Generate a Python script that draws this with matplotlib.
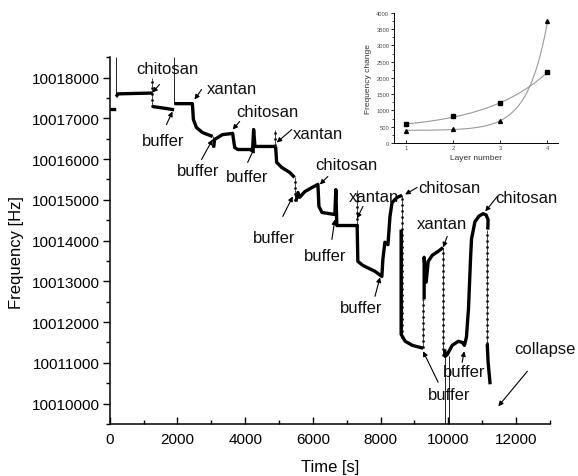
import numpy as np
import matplotlib.pyplot as plt
from matplotlib.ticker import MultipleLocator, FuncFormatter

plt.rcParams['font.family'] = ['Liberation Sans', 'DejaVu Sans']

# main frequency trace, nan = break between pieces
time_s = [0, 190, np.nan,
          190, 240, 700, 1260, np.nan,
          1260, 1600, 1900, np.nan,
          1910, 2440, 2470, 2560, 2740, 3040, np.nan,
          3070, 3095, 3330, 3630, 3690, 3780, 4220, 4250, 4290, 4870, np.nan,
          4900, 4930, 5080, 5320, 5460, np.nan,
          5500, 5560, 5610, 5760, 5970, 6150, 6180, 6270, 6650, 6680, 6710, 7300,
          7310, 7330, 7480, 7840, 8040, 8070, 8130, 8220, 8280, 8340, 8490, 8640, np.nan,
          8610, 8610, 8730, 8940, 9260, np.nan,
          9290, 9290, 9350, 9410, 9530, 9710, 9850, np.nan,
          9900, 9910, 9970, 10120, 10300, 10420, 10480, 10540, 10600, 10660, 10690,
          10790, 10910, 11030, 11120, 11180, 11170, np.nan,
          11155, 11180, 11240]
freq_hz = [10017216, 10017216, np.nan,
           10017530, 10017600, 10017610, 10017620, np.nan,
           10017290, 10017250, 10017210, np.nan,
           10017360, 10017360, 10016970, 10016775, 10016650, 10016555, np.nan,
           10016285, 10016480, 10016600, 10016630, 10016285, 10016235, 10016235, 10016725, 10016310, 10016310, np.nan,
           10016310, 10015920, 10015795, 10015670, 10015550, np.nan,
           10014960, 10015180, 10015060, 10015200, 10015300, 10015380, 10014840, 10014690, 10014640, 10015250, 10014370, 10014370,
           10014370, 10013490, 10013390, 10013245, 10013120, 10013540, 10013960, 10013900, 10014590, 10014930, 10015060, 10015110, np.nan,
           10014270, 10011700, 10011530, 10011430, 10011360, np.nan,
           10012560, 10013590, 10012980, 10013490, 10013640, 10013740, 10013830, np.nan,
           10011330, 10011160, 10011200, 10011430, 10011530, 10011500, 10011430, 10011630, 10012320, 10013540, 10014040,
           10014460, 10014600, 10014660, 10014630, 10014510, 10014270, np.nan,
           10011460, 10011020, 10010475]

# thin injection spikes
spike_t = [190, 1910, 9910, 10010]
spike_top = [10018500, 10018500, 10011330, 10011160]
spike_bottom = [10017530, 10017360, 10009000, 10009000]

# dotted jumps
dot_t = [1260, 3050, 4880, 5480, 7300, 8640, 9260, 9850, 11155]
dot_top = [10018000, 10016555, 10016720, 10015550, 10015250, 10015110, 10012560, 10013830, 10014270]
dot_bottom = [10017290, 10016285, 10016310, 10014960, 10014370, 10011600, 10011360, 10011160, 10011460]

# labels and arrows
label_text = ['chitosan', 'buffer', 'xantan', 'chitosan', 'buffer', 'buffer', 'xantan', 'buffer',
              'chitosan', 'buffer', 'xantan', 'chitosan', 'buffer', 'xantan', 'chitosan',
              'buffer', 'buffer', 'collapse']
label_x = [1704, 1585, 3600, 4667, 2622, 4074, 6148, 4844, 6978, 6356, 7807, 10030, 7422, 9822,
           12311, 10474, 10030, 12874]
label_y = [10018221, 10016456, 10017730, 10017167, 10015720, 10015573, 10016627, 10014078,
           10015868, 10013637, 10015083, 10015304, 10012363, 10014421, 10015059, 10010794,
           10010230, 10011358]
arrow_x0 = [1467, 1674, 2711, 3837, 2711, 4074, 5378, 5111, 6444, 6563, 7482, 9082, 7837, 9971,
            11452, 10415, 9704, 12341]
arrow_y0 = [10017828, 10016848, 10017706, 10016922, 10015990, 10015917, 10016725, 10014593,
            10015573, 10014029, 10014838, 10015304, 10012632, 10014103, 10015083, 10011015,
            10010524, 10010794]
arrow_x1 = [1259, 1852, 2504, 3630, 3037, 4281, 4933, 5408, 6207, 6652, 7304, 8726, 7985, 9852,
            11096, 10474, 9259, 11482]
arrow_y1 = [10017632, 10017167, 10017461, 10016725, 10016480, 10016284, 10016407, 10015083,
            10015377, 10014520, 10014544, 10015132, 10013098, 10013833, 10014716, 10011284,
            10011284, 10009936]

# inset: frequency change per layer
layer = [1, 2, 3, 4]
chg_square = [573, 818, 1228, 2179]
chg_triangle = [378, 430, 685, 3734]


def exp_fit(x, y):
    x = np.asarray(x, float)
    y = np.asarray(y, float)
    best = None
    for k in np.linspace(0.05, 5, 500):
        M = np.column_stack([np.ones_like(x), np.exp(k * x)])
        c = np.linalg.lstsq(M, y, rcond=None)[0]
        r = np.sum((M @ c - y) ** 2)
        if best is None or r < best[0]:
            best = (r, k, c)
    return best[1], best[2]


fig = plt.figure(figsize=(5.78, 4.77), dpi=100)
ax = fig.add_axes([0.190, 0.109, 0.761, 0.769])

ax.vlines(spike_t, spike_bottom, spike_top, color='k', lw=0.6)
ax.vlines(dot_t, dot_bottom, dot_top, color='k', lw=0.5)
ax.vlines(dot_t, dot_bottom, dot_top, color='k', lw=1.8, linestyles=[(0, (0.8, 1.6))])
ax.plot(time_s, freq_hz, color='k', lw=2.4, solid_capstyle='butt')

for s, tx, ty in zip(label_text, label_x, label_y):
    ax.text(tx, ty, s, ha='center', va='center', fontsize=12, color='#111111')
for x0, y0, x1, y1 in zip(arrow_x0, arrow_y0, arrow_x1, arrow_y1):
    ax.annotate('', xy=(x1, y1), xytext=(x0, y0), annotation_clip=False,
                arrowprops=dict(arrowstyle='-|>', color='k', lw=0.8, mutation_scale=7,
                                shrinkA=0, shrinkB=0))

ax.set_xlim(0, 13000)
ax.set_ylim(10009500, 10018500)
ax.xaxis.set_major_locator(MultipleLocator(2000))
ax.xaxis.set_minor_locator(MultipleLocator(1000))
ax.yaxis.set_major_locator(MultipleLocator(1000))
ax.yaxis.set_minor_locator(MultipleLocator(500))
ax.yaxis.set_major_formatter(FuncFormatter(lambda v, p: f'{v:.0f}'))
ax.tick_params(axis='x', which='major', direction='in', length=5, width=1, labelsize=11, pad=6)
ax.tick_params(axis='x', which='minor', direction='in', length=3, width=1)
ax.tick_params(axis='y', which='major', direction='out', length=5, width=1, labelsize=11, pad=2)
ax.tick_params(axis='y', which='minor', direction='out', length=3, width=1)
for sp in ['top', 'right']:
    ax.spines[sp].set_visible(False)
for sp in ['left', 'bottom']:
    ax.spines[sp].set_linewidth(1.1)
ax.set_xlabel('Time [s]', fontsize=12)
ax.set_ylabel('Frequency [Hz]', fontsize=12)
ax.xaxis.set_label_coords(0.5, -0.095)
ax.yaxis.set_label_coords(-0.195, 0.47)

# inset
ins = fig.add_axes([0.682, 0.698, 0.284, 0.273])
xs = np.linspace(1, 4, 200)
for vals in (chg_square, chg_triangle):
    k, c = exp_fit(layer, vals)
    ins.plot(xs, c[0] + c[1] * np.exp(k * xs), color='0.6', lw=0.8)
ins.plot(layer, chg_square, 's', ms=2.5, color='k')
ins.plot(layer, chg_triangle, '^', ms=2.8, color='k')
ins.set_xlim(0.75, 4.23)
ins.set_ylim(0, 4000)
ins.xaxis.set_major_locator(MultipleLocator(1))
ins.yaxis.set_major_locator(MultipleLocator(500))
ins.yaxis.set_minor_locator(MultipleLocator(250))
ins.tick_params(axis='both', which='major', labelsize=4.2, length=2, width=0.6, pad=1.5,
                labelcolor='0.3')
ins.tick_params(axis='y', which='minor', length=1.2, width=0.5)
ins.tick_params(axis='x', direction='in')
for sp in ['top', 'right']:
    ins.spines[sp].set_visible(False)
for sp in ['left', 'bottom']:
    ins.spines[sp].set_linewidth(0.7)
ins.set_xlabel('Layer number', fontsize=6, color='0.2', labelpad=3)
ins.set_ylabel('Frequency change', fontsize=6, color='0.2', labelpad=3)

fig.savefig('out.png', dpi=100)
